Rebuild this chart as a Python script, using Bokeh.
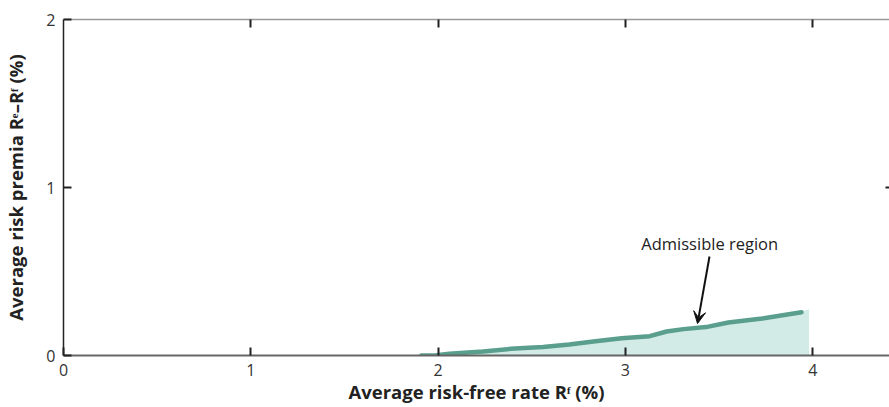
from bokeh.plotting import figure
from bokeh.models import Range1d, LinearAxis, FixedTicker, Label, Arrow, VeeHead
from bokeh.embed import file_html
from bokeh.resources import INLINE

# ---- data ----
line_x = [1.91, 1.99, 2.06, 2.24, 2.41, 2.56, 2.70, 2.84, 2.98, 3.13, 3.22, 3.31, 3.43, 3.55, 3.73, 3.94]
line_y = [0.000, 0.002, 0.010, 0.024, 0.042, 0.050, 0.065, 0.085, 0.103, 0.115, 0.143, 0.157, 0.169, 0.196, 0.220, 0.258]
region_x = [1.93, 1.99, 2.06, 2.24, 2.41, 2.56, 2.70, 2.84, 2.98, 3.13, 3.22, 3.31, 3.43, 3.55, 3.73, 3.94, 3.98]
region_top = [0.000, 0.002, 0.010, 0.024, 0.042, 0.050, 0.065, 0.085, 0.103, 0.115, 0.143, 0.157, 0.169, 0.196, 0.220, 0.262, 0.275]
x_ticks = [0, 1, 2, 3, 4]
y_ticks = [0, 1, 2]
x_title = "Average risk-free rate R\u1da0 (%)"
y_title = "Average risk premia R\u1d49\u2013R\u1da0 (%)"
annotation_text = "Admissible region"
annotation_pos = (3.45, 0.667)
arrow_start = (3.449, 0.589)
arrow_end = (3.385, 0.19)

FONT = "Open Sans"
TICK_COLOR = "#222222"

p = figure(width=889, height=407, output_backend="svg", toolbar_location=None,
           x_range=Range1d(0, 4.41), y_range=Range1d(0, 2),
           x_axis_location=None, y_axis_location=None,
           min_border_left=61, min_border_top=19, min_border_bottom=52, min_border_right=0)
p.outline_line_color = None
p.grid.visible = False
p.background_fill_color = "white"
p.border_fill_color = "white"

def style_axis(ax, line_color, line_width, labels=True, standoff=8):
    ax.axis_line_color = line_color
    ax.axis_line_width = line_width
    ax.major_tick_in = 8
    ax.major_tick_out = 0
    ax.major_tick_line_color = TICK_COLOR
    ax.major_tick_line_width = 2
    ax.minor_tick_line_color = None
    if labels:
        ax.major_label_text_font = FONT
        ax.major_label_text_font_size = "16px"
        ax.major_label_text_color = "#333333"
        ax.major_label_standoff = standoff
        ax.axis_label_text_font = FONT
        ax.axis_label_text_font_size = "18.5px"
        ax.axis_label_text_font_style = "bold"
        ax.axis_label_text_color = "#222222"
    else:
        ax.major_label_text_font_size = "0px"
        ax.major_label_text_color = None
        ax.major_label_standoff = 0

bottom = LinearAxis(ticker=FixedTicker(ticks=x_ticks), axis_label=x_title)
style_axis(bottom, "#666666", 2, standoff=8)
bottom.axis_label_standoff = 0
p.add_layout(bottom, "below")

left = LinearAxis(ticker=FixedTicker(ticks=y_ticks), axis_label=y_title)
style_axis(left, "#222222", 1.5, standoff=8)
left.axis_label_standoff = 15
p.add_layout(left, "left")

top = LinearAxis(ticker=FixedTicker(ticks=x_ticks[1:]))
style_axis(top, "#999999", 1.5, labels=False)
p.add_layout(top, "above")

right = LinearAxis(ticker=FixedTicker(ticks=[1]))
style_axis(right, None, 1, labels=False)
right.major_tick_in = 4
p.add_layout(right, "right")

# admissible region
p.varea(x=region_x, y1=0, y2=region_top, fill_color="#d2ebe6", fill_alpha=1.0)
p.line(x=line_x, y=line_y, line_color="#5a9e8e", line_width=4.5, line_cap="round", line_join="round")

# annotation
p.add_layout(Label(x=annotation_pos[0], y=annotation_pos[1], text=annotation_text,
                   text_font=FONT, text_font_size="16.5px", text_color="#222222",
                   text_align="center", text_baseline="middle"))
p.add_layout(Arrow(x_start=arrow_start[0], y_start=arrow_start[1],
                   x_end=arrow_end[0], y_end=arrow_end[1],
                   line_color="#111111", line_width=2,
                   end=VeeHead(size=12, fill_color="#111111", line_color="#111111")))

open("out.html", "w").write(file_html(p, INLINE))
